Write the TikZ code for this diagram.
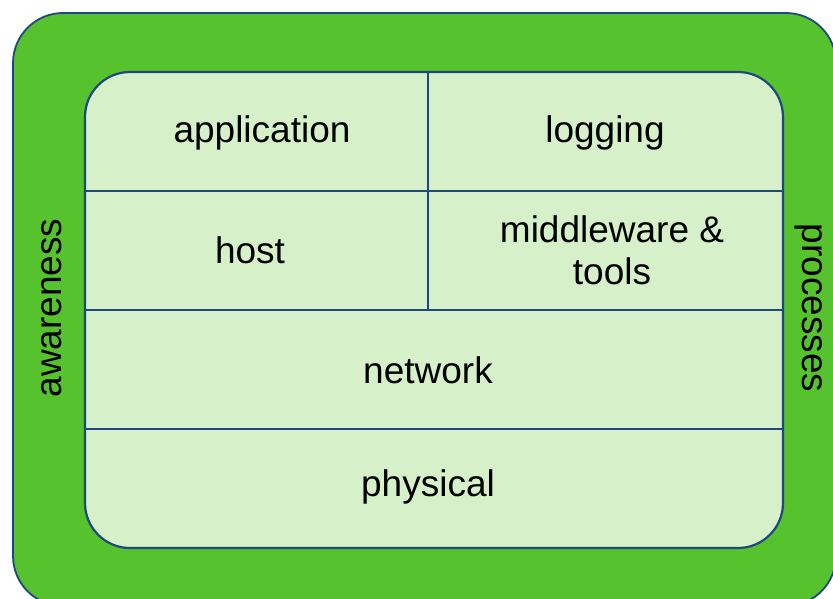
\documentclass[tikz,border=0pt]{standalone}
\usepackage{fontspec}
\setmainfont{Liberation Sans}
\definecolor{outergreen}{RGB}{86,194,46}
\definecolor{innergreen}{RGB}{214,240,201}
\definecolor{edgeblue}{RGB}{31,73,125}
\begin{document}
\begin{tikzpicture}[x=1pt,y=-1pt,
  lbl/.style={font=\fontsize{37}{42}\selectfont, text=black, align=center, inner sep=0pt},
  edge/.style={draw=edgeblue, line width=2.2pt}]
\useasboundingbox (0,0) rectangle (833,599);
\clip (0,0) rectangle (833,599);
\fill[white] (0,0) rectangle (833,599);
% outer frame
\draw[edge, line width=1.8pt, fill=outergreen, rounded corners=50pt] (13,13) rectangle (836,606);
% inner box
\draw[edge, fill=innergreen, rounded corners=45pt] (85,72) rectangle (783,548);
% dividers
\draw[edge] (85,191) -- (783,191);
\draw[edge] (85,310) -- (783,310);
\draw[edge] (85,429) -- (783,429);
\draw[edge] (428,72) -- (428,310);
% labels
\node[lbl] (app) at (262,133) {application};
\node[lbl] (log) at (605,133) {logging};
\node[lbl] (host) at (250,250) {host};
\node[lbl] (mid) at (612,250) {middleware \&\\tools};
\node[lbl] (net) at (428,370) {network};
\node[lbl] (phys) at (428,487) {physical};
\node[lbl, rotate=90] (aw) at (52,308) {awareness};
\node[lbl, rotate=-90] (proc) at (809,308) {processes};
\end{tikzpicture}
\end{document}
